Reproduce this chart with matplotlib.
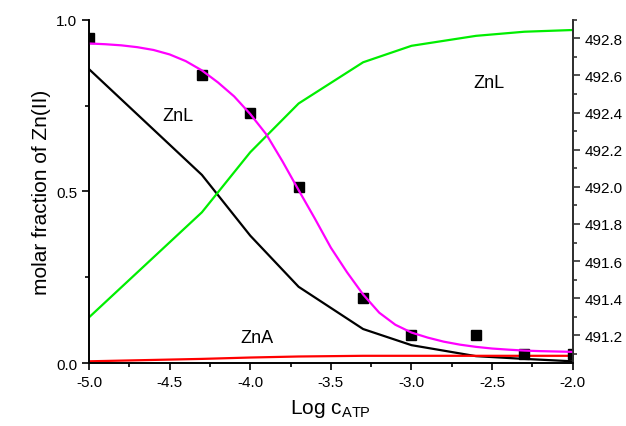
import matplotlib
matplotlib.use("Agg")
import matplotlib.pyplot as plt
from matplotlib.ticker import MultipleLocator

plt.rcParams['font.family'] = ['Liberation Sans', 'DejaVu Sans']
plt.rcParams['mathtext.fontset'] = 'custom'
plt.rcParams['mathtext.rm'] = 'Liberation Sans'

# Species distribution (left axis, molar fraction of Zn(II))
log_c = [-5.0, -4.3, -4.0, -3.7, -3.3, -3.0, -2.6, -2.3, -2.0]
frac_black = [0.856, 0.548, 0.371, 0.222, 0.099, 0.052, 0.020, 0.012, 0.005]
frac_green = [0.133, 0.439, 0.614, 0.756, 0.876, 0.924, 0.953, 0.965, 0.970]
frac_red = [0.005, 0.012, 0.016, 0.019, 0.021, 0.021, 0.021, 0.021, 0.021]

# Measured wavelength (right axis)
meas_x = [-5.0, -4.3, -4.0, -3.7, -3.3, -3.0, -2.6, -2.3, -2.0]
meas_y = [492.8, 492.6, 492.4, 492.0, 491.4, 491.2, 491.2, 491.1, 491.1]

# Fitted curve (right axis)
fit_x = [-5.0, -4.9, -4.8, -4.7, -4.6, -4.5, -4.4, -4.3, -4.2, -4.1,
         -4.0, -3.9, -3.8, -3.7, -3.6, -3.5, -3.4, -3.3, -3.2, -3.1,
         -3.0, -2.9, -2.8, -2.7, -2.6, -2.5, -2.4, -2.3, -2.2, -2.1, -2.0]
fit_y = [492.772, 492.768, 492.762, 492.752, 492.737, 492.713, 492.677,
         492.627, 492.562, 492.487, 492.392, 492.282, 492.137, 491.982,
         491.830, 491.672, 491.540, 491.420, 491.322, 491.257, 491.215,
         491.188, 491.166, 491.150, 491.138, 491.129, 491.123, 491.118,
         491.115, 491.113, 491.111]

fig = plt.figure(figsize=(6.26, 4.27), dpi=100)
ax = fig.add_axes([0.1422, 0.1475, 0.9149 - 0.1422, 0.9515 - 0.1475])
ax2 = ax.twinx()

ax.plot(log_c, frac_black, color='black', lw=1.6)
ax.plot(log_c, frac_green, color='#00ee00', lw=1.6)
ax.plot(log_c, frac_red, color='#ff0000', lw=1.6)

ax2.plot(meas_x, meas_y, linestyle='none', marker='s', markersize=7,
         color='black')
ax2.plot(fit_x, fit_y, color='#ff00ff', lw=1.6)

ax.set_xlim(-5.0, -2.0)
ax.set_ylim(0.0, 1.0)
ax2.set_ylim(491.051, 492.90)

ax.xaxis.set_major_locator(MultipleLocator(0.5))
ax.xaxis.set_minor_locator(MultipleLocator(0.25))
ax.yaxis.set_major_locator(MultipleLocator(0.5))
ax.yaxis.set_minor_locator(MultipleLocator(0.25))
ax2.yaxis.set_major_locator(MultipleLocator(0.2))
ax2.yaxis.set_minor_locator(MultipleLocator(0.1))

ax.xaxis.set_major_formatter(plt.FormatStrFormatter('%.1f'))
ax.yaxis.set_major_formatter(plt.FormatStrFormatter('%.1f'))
ax2.yaxis.set_major_formatter(plt.FormatStrFormatter('%.1f'))

for a in (ax, ax2):
    a.spines['top'].set_visible(False)
    for s in a.spines.values():
        s.set_linewidth(1.2)
ax2.spines['right'].set_color('#333333')

ax.tick_params(axis='both', which='major', direction='out', length=5,
               width=1.2, labelsize=11, top=False)
ax.tick_params(axis='both', which='minor', direction='out', length=3,
               width=1.2, top=False)
ax2.tick_params(axis='y', which='major', direction='out', length=5,
                width=1.2, labelsize=11, color='#333333')
ax2.tick_params(axis='y', which='minor', direction='out', length=3,
                width=1.2, color='#333333')

ax.set_ylabel('molar fraction of Zn(II)', fontsize=15, labelpad=4)
ax.set_xlabel(r'Log c$_{\mathregular{ATP}}$', fontsize=15, labelpad=6)

ax.text(-4.45, 0.722, 'ZnL', fontsize=13, ha='center', va='center')
ax.text(-2.52, 0.818, 'ZnL', fontsize=13, ha='center', va='center')
ax.text(-3.96, 0.075, 'ZnA', fontsize=13, ha='center', va='center')

fig.savefig('out.png', dpi=100)
